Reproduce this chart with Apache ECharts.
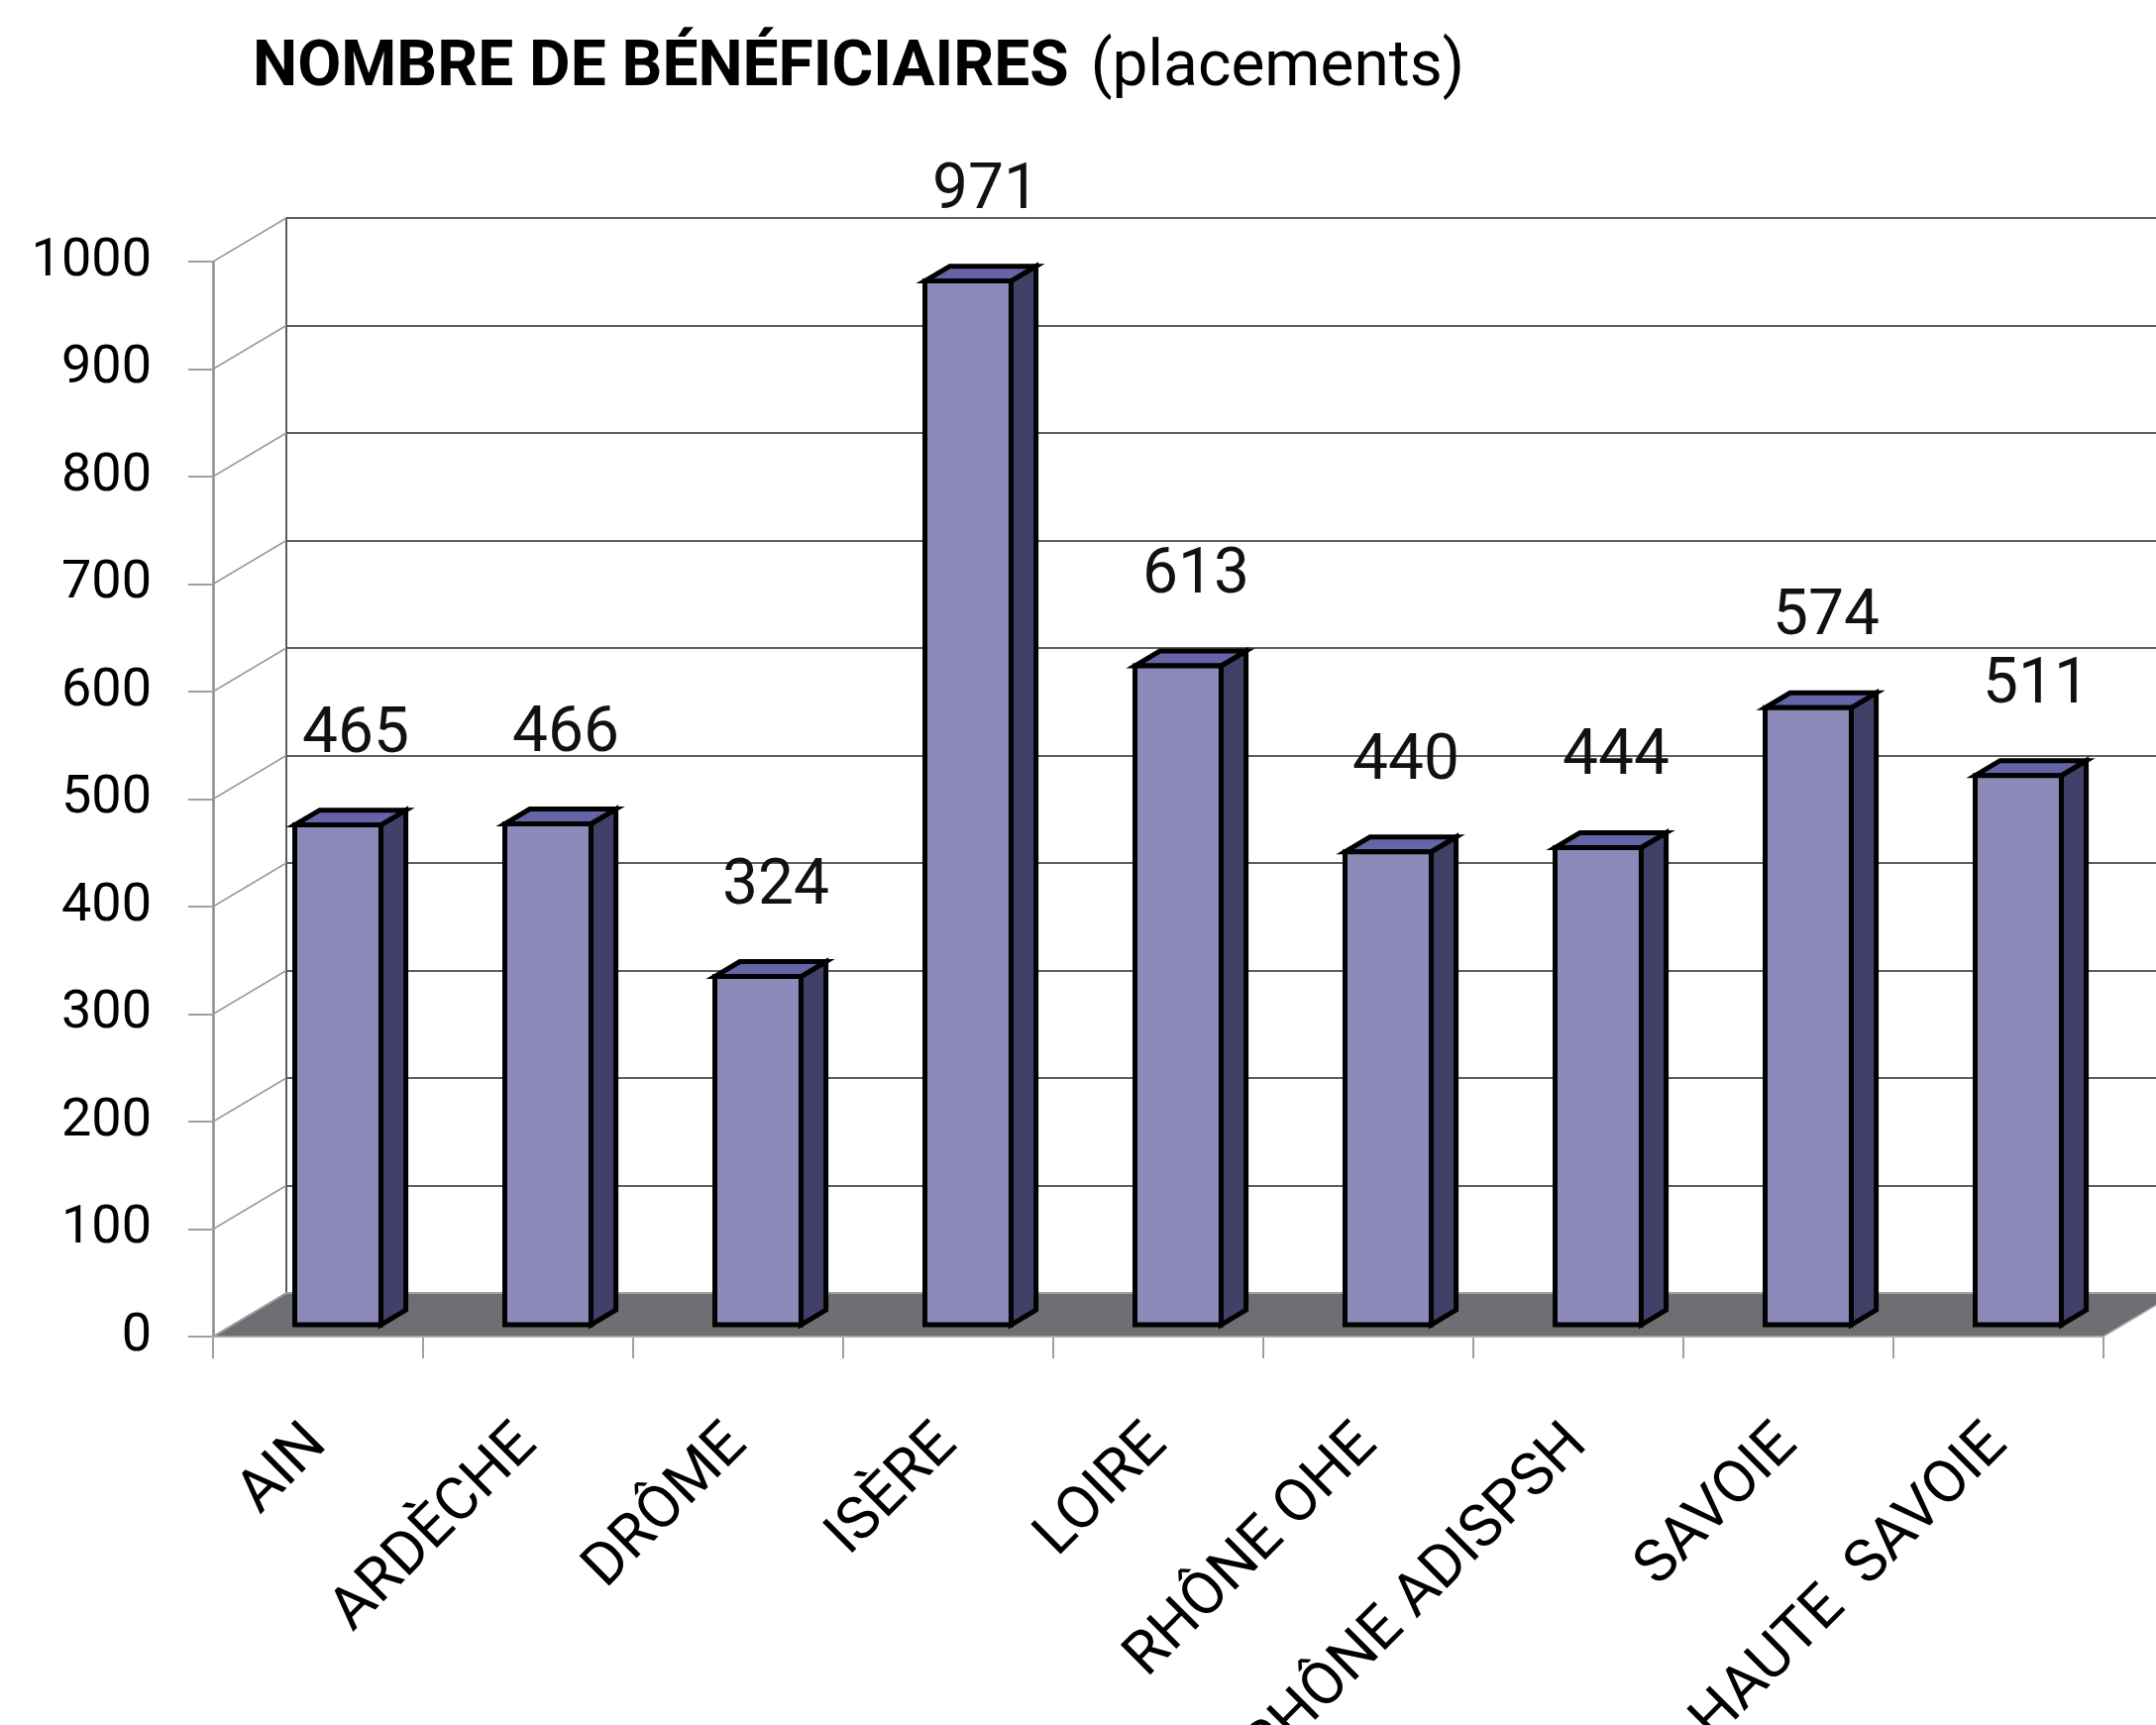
<!DOCTYPE html>
<html>
<head>
<meta charset="utf-8">
<script src="https://cdn.jsdelivr.net/npm/echarts@6/dist/echarts.min.js"></script>
<style>
  html, body { margin: 0; padding: 0; background: #ffffff; overflow: hidden; }
  #chart { width: 2176px; height: 1741px; }
</style>
</head>
<body>
<div id="chart"></div>
<script>
// Placements per department
const categories = ['AIN', 'ARDÈCHE', 'DRÔME', 'ISÈRE', 'LOIRE', 'RHÔNE OHE', 'RHÔNE ADISPSH', 'SAVOIE', 'HAUTE  SAVOIE'];
const beneficiaires = [465, 466, 324, 971, 613, 440, 444, 574, 511];
const valueTicks = [0, 100, 200, 300, 400, 500, 600, 700, 800, 900, 1000];

// Oblique depth of the pseudo-3D box (screen pixels) and where bars sit inside it
const DEPTH_X = 74, DEPTH_Y = -44;
const BAR_FRONT = 0.27, BAR_BACK = 0.61;
const BAR_RATIO = 0.41;
const FONT = 'Roboto, "DejaVu Sans", sans-serif';

const FRONT_GRID = { left: 215, right: 53, top: 264, bottom: 392 };
const BACK_GRID = {
  left: FRONT_GRID.left + DEPTH_X,
  right: FRONT_GRID.right - DEPTH_X,
  top: FRONT_GRID.top + DEPTH_Y,
  bottom: FRONT_GRID.bottom - DEPTH_Y
};

const chart = echarts.init(document.getElementById('chart'), null, { renderer: 'canvas' });

// Grey floor under the bars
function renderFloor(params, api) {
  const cs = params.coordSys;
  const y0 = api.coord([0, 0])[1];
  return {
    type: 'polygon',
    shape: {
      points: [
        [cs.x, y0],
        [cs.x + cs.width, y0],
        [cs.x + cs.width + DEPTH_X, y0 + DEPTH_Y],
        [cs.x + DEPTH_X, y0 + DEPTH_Y]
      ]
    },
    style: { fill: '#6e6e73', stroke: '#b5b5b5', lineWidth: 1.5 }
  };
}

// Receding gridlines on the left side wall
function renderSideWall(params, api) {
  const cs = params.coordSys;
  const y = api.coord([0, api.value(1)])[1];
  return {
    type: 'line',
    shape: { x1: cs.x, y1: y, x2: cs.x + DEPTH_X, y2: y + DEPTH_Y },
    style: { stroke: '#9c9c9c', lineWidth: 1.6 }
  };
}

// Prism-shaped bar with its value label
function renderBar(params, api) {
  const i = api.value(0);
  const v = api.value(1);
  const base = api.coord([i, 0]);
  const top = api.coord([i, v]);
  const band = api.size([1, 0])[0];
  const w = band * BAR_RATIO;

  const ox = BAR_FRONT * DEPTH_X, oy = BAR_FRONT * DEPTH_Y;
  const dx = (BAR_BACK - BAR_FRONT) * DEPTH_X, dy = (BAR_BACK - BAR_FRONT) * DEPTH_Y;

  const xl = base[0] - w / 2 + ox;
  const xr = base[0] + w / 2 + ox;
  const yb = base[1] + oy;
  const yt = top[1] + oy;

  const edge = { stroke: '#000000', lineWidth: 5, lineJoin: 'miter' };

  return {
    type: 'group',
    children: [
      {
        type: 'polygon',
        shape: { points: [[xr, yb], [xr + dx, yb + dy], [xr + dx, yt + dy], [xr, yt]] },
        style: Object.assign({ fill: '#404069' }, edge)
      },
      {
        type: 'polygon',
        shape: { points: [[xl, yt], [xr, yt], [xr + dx, yt + dy], [xl + dx, yt + dy]] },
        style: Object.assign({ fill: '#6464a6' }, edge)
      },
      {
        type: 'rect',
        shape: { x: xl, y: yt, width: xr - xl, height: yb - yt },
        style: Object.assign({ fill: '#8b8ab9' }, edge)
      },
      {
        type: 'text',
        style: {
          text: String(v),
          x: (xl + xr) / 2 + 18,
          y: yt - 90,
          align: 'center',
          verticalAlign: 'middle',
          fontSize: 64,
          fontFamily: FONT,
          fill: '#111111'
        }
      }
    ]
  };
}

const option = {
  animation: false,
  backgroundColor: '#ffffff',
  title: {
    left: 250,
    top: 33,
    text: '{b|NOMBRE DE BÉNÉFICIAIRES}{r|(placements)}',
    textStyle: {
      rich: {
        b: { fontSize: 64, fontWeight: 'bold', fontFamily: FONT, color: '#000000' },
        r: { fontSize: 64, fontWeight: 'normal', fontFamily: FONT, color: '#000000', padding: [0, 0, 0, 22] }
      }
    }
  },
  grid: [
    Object.assign({ containLabel: false, outerBoundsMode: 'none' }, FRONT_GRID),
    Object.assign({ containLabel: false, outerBoundsMode: 'none' }, BACK_GRID)
  ],
  xAxis: [
    {
      gridIndex: 0,
      type: 'category',
      data: categories,
      axisLine: { show: true, lineStyle: { color: '#a0a0a0', width: 2 } },
      axisTick: { show: true, interval: 0, length: 22, lineStyle: { color: '#a0a0a0', width: 2 } },
      axisLabel: {
        interval: 0,
        rotate: 45,
        margin: 100,
        fontSize: 60,
        fontFamily: FONT,
        color: '#000000',
        hideOverlap: false
      },
      splitLine: { show: false }
    },
    {
      gridIndex: 1,
      type: 'category',
      data: categories,
      show: false
    }
  ],
  yAxis: [
    {
      gridIndex: 0,
      type: 'value',
      min: 0,
      max: 1000,
      interval: 100,
      axisLine: { show: true, lineStyle: { color: '#8c8c8c', width: 2.5 } },
      axisTick: { show: true, length: 25, lineStyle: { color: '#a0a0a0', width: 2 } },
      axisLabel: {
        margin: 62,
        fontSize: 54,
        fontFamily: FONT,
        color: '#000000',
        formatter: v => String(v)
      },
      splitLine: { show: false }
    },
    {
      gridIndex: 1,
      type: 'value',
      min: 0,
      max: 1000,
      interval: 100,
      axisLine: { show: true, lineStyle: { color: '#333333', width: 1.6 } },
      axisTick: { show: false },
      axisLabel: { show: false },
      splitLine: { show: true, lineStyle: { color: '#2a2a2a', width: 1.6 } }
    }
  ],
  series: [
    {
      name: 'floor',
      type: 'custom',
      xAxisIndex: 0,
      yAxisIndex: 0,
      z: 1,
      silent: true,
      renderItem: renderFloor,
      data: [[0, 0]]
    },
    {
      name: 'wall',
      type: 'custom',
      xAxisIndex: 0,
      yAxisIndex: 0,
      z: 1,
      silent: true,
      renderItem: renderSideWall,
      data: valueTicks.map(v => [0, v])
    },
    {
      name: 'Bénéficiaires',
      type: 'custom',
      xAxisIndex: 0,
      yAxisIndex: 0,
      z: 3,
      renderItem: renderBar,
      data: beneficiaires.map((v, i) => [i, v])
    }
  ]
};

chart.setOption(option);
</script>
</body>
</html>
